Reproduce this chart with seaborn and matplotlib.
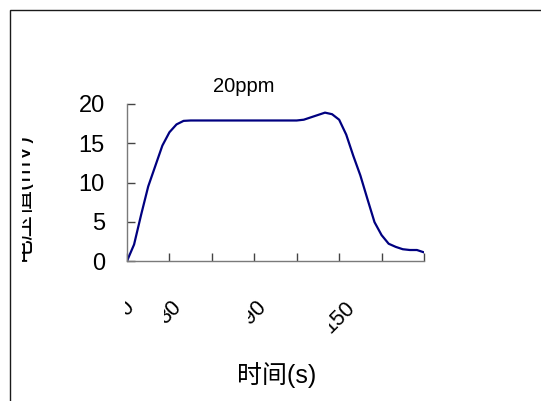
import numpy as np
import pandas as pd
import matplotlib
matplotlib.use("Agg")
import matplotlib.pyplot as plt
import seaborn as sns
from matplotlib.patches import Rectangle
from matplotlib.transforms import Bbox

# ---- data ----
time_s = [0, 5, 10, 15, 20, 25, 30, 35, 40, 45,
          50, 55, 60, 65, 70, 75, 80, 85, 90, 95, 100, 105, 110, 115, 120,
          125, 130, 135, 140, 145, 150, 155, 160, 165, 170, 175, 180, 185,
          190, 195, 200, 205, 210]
voltage_mv = [0.0, 2.1, 5.9, 9.5, 12.1, 14.7, 16.4, 17.4, 17.85, 17.9,
              17.9, 17.9, 17.9, 17.9, 17.9, 17.9, 17.9, 17.9, 17.9, 17.9,
              17.9, 17.9, 17.9, 17.9, 17.9,
              18.0, 18.3, 18.6, 18.9, 18.7, 18.0, 16.1, 13.4, 10.9, 7.9,
              4.95, 3.3, 2.2, 1.8, 1.5, 1.4, 1.4, 1.1]
x_ticks = [0, 30, 60, 90, 120, 150, 180, 210]
x_tick_labels = ["0", "30", "", "90", "", "150", "", ""]
y_ticks = [0, 5, 10, 15, 20]
title_text = "20ppm"
x_label = "时间(s)"
y_label = "电压值(mV)"

sns.set_theme(style="white")
plt.rcParams['font.family'] = ['Liberation Sans', 'Noto Sans CJK SC', 'DejaVu Sans']
plt.rcParams['text.color'] = 'black'

W, H = 541, 401
fig = plt.figure(figsize=(W / 100, H / 100), dpi=100)
fig.patch.set_facecolor("white")

# outer frame (only top and left edges fall inside the canvas)
fig.add_artist(Rectangle((10 / W, -0.1), 1.2, 0.1 + (H - 10) / H,
                         transform=fig.transFigure, fill=False,
                         edgecolor="#1a1a1a", linewidth=1.0))

ax = fig.add_axes([127 / W, 1 - 261 / H, (424 - 127) / W, (261 - 104) / H])
ax.set_facecolor("white")
df = pd.DataFrame({"t": time_s, "v": voltage_mv})
sns.lineplot(data=df, x="t", y="v", ax=ax, color="#000080", linewidth=1.6)

ax.set_xlim(0, 210)
ax.set_ylim(0, 20)
ax.set_xticks(x_ticks)
ax.set_xticklabels(x_tick_labels, rotation=45, ha="center")
ax.set_yticks(y_ticks)
ax.set_xlabel("")
ax.set_ylabel("")
sns.despine(ax=ax)
for s in ("left", "bottom"):
    ax.spines[s].set_color("#7a7a7a")
    ax.spines[s].set_linewidth(1.0)
ax.tick_params(axis="both", direction="in", length=6, width=1.0,
               color="#444444", bottom=True, left=True)
ax.tick_params(axis="y", labelsize=17, pad=16, labelcolor="black")
ax.tick_params(axis="x", labelsize=15.5, pad=26, labelcolor="black")

fig.text(244 / W, 1 - 92 / H, title_text, ha="center", va="baseline",
         fontsize=14.5, color="black")
fig.text(277 / W, 1 - 375 / H, x_label, ha="center", va="center",
         fontsize=18, color="black")
yl = fig.text(28 / W, 1 - 196 / H, y_label, rotation=90, rotation_mode="anchor",
              ha="center", va="baseline", fontsize=18, color="black")
yl.set_clip_box(Bbox([[22, H - 272], [33, H - 118]]))
yl.set_clip_on(True)

# the reference cuts off the start of each rotated tick label
fig.canvas.draw()
renderer = fig.canvas.get_renderer()
for lbl in ax.get_xticklabels():
    if lbl.get_text():
        bb = lbl.get_window_extent(renderer)
        lbl.set_clip_box(Bbox([[bb.x0 + 10, bb.y0 - 5], [bb.x1 + 5, bb.y1 + 5]]))
        lbl.set_clip_on(True)

fig.savefig("out.png", dpi=100)
